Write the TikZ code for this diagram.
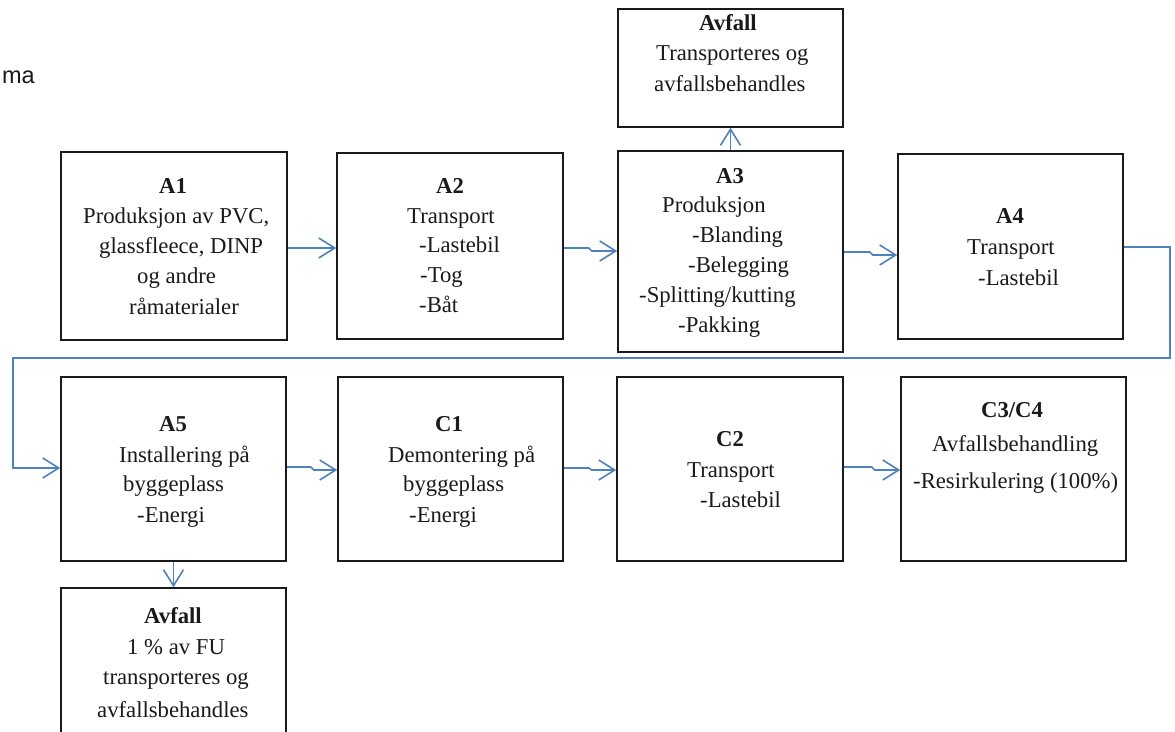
\documentclass[tikz,border=0pt]{standalone}
\usepackage{fontspec}
\setmainfont{Liberation Serif}
\newfontfamily\labelsans{Liberation Sans}
\usetikzlibrary{arrows.meta}
\definecolor{flowblue}{HTML}{4F81BD}
\definecolor{ink}{HTML}{1A1A1A}
\begin{document}
\begin{tikzpicture}[x=1pt,y=-1pt,
  box/.style={draw=ink, line width=1.6pt, inner sep=0pt},
  tl/.style={anchor=base west, inner sep=0pt, text=ink, font=\fontsize{22.7}{27}\selectfont},
  hd/.style={anchor=base, inner sep=0pt, text=ink, font=\fontsize{22.7}{27}\selectfont\bfseries},
  arr/.style={draw=flowblue, line width=1.6pt, -{Straight Barb[length=16pt,width=20pt]}}]
\clip (0,0) rectangle (1175,731);
\fill[white] (0,0) rectangle (1175,731);

% partial title
\node[anchor=base east, inner sep=0pt, font=\labelsans\fontsize{23.5}{28}\selectfont, text=ink] (title) at (35,83) {ma};

% boxes
\node[box, minimum width=226pt, minimum height=188pt] (A1) at (174,246) {};
\node[box, minimum width=226pt, minimum height=186pt] (A2) at (450,246) {};
\node[box, minimum width=225pt, minimum height=201pt] (A3) at (730.5,251.5) {};
\node[box, minimum width=225pt, minimum height=118pt] (AvT) at (730.5,68) {};
\node[box, minimum width=225pt, minimum height=185pt] (A4) at (1010.5,246.5) {};
\node[box, minimum width=225pt, minimum height=184pt] (A5) at (173.5,469) {};
\node[box, minimum width=225pt, minimum height=184pt] (C1) at (450.5,469) {};
\node[box, minimum width=226pt, minimum height=184pt] (C2) at (730,469) {};
\node[box, minimum width=225pt, minimum height=184pt] (C3) at (1013.5,469) {};
\node[box, minimum width=225pt, minimum height=172pt] (AvB) at (173.5,674) {};

% A1 text
\node[hd] (A1h) at (173,193) {A1};
\node[tl] (A1a) at (83,223) {Produksjon av PVC,};
\node[tl] (A1b) at (99,253) {glassfleece, DINP};
\node[tl] (A1c) at (137,283) {og andre};
\node[tl] (A1d) at (129,314) {råmaterialer};
% A2 text
\node[hd] (A2h) at (450,193) {A2};
\node[tl] (A2a) at (407,223) {Transport};
\node[tl] (A2b) at (419,252) {-Lastebil};
\node[tl] (A2c) at (420,282) {-Tog};
\node[tl] (A2d) at (419,312) {-Båt};
% A3 text
\node[hd] (A3h) at (730,183) {A3};
\node[tl] (A3a) at (662,212) {Produksjon};
\node[tl] (A3b) at (692,242) {-Blanding};
\node[tl] (A3c) at (688,272) {-Belegging};
\node[tl] (A3d) at (639,302) {-Splitting/kutting};
\node[tl] (A3e) at (678,332) {-Pakking};
% top waste
\node[hd] (AvTh) at (728,30) {Avfall};
\node[tl] (AvTa) at (656,60) {Transporteres og};
\node[tl] (AvTb) at (654,91) {avfallsbehandles};
% A4 text
\node[hd] (A4h) at (1010,223) {A4};
\node[tl] (A4a) at (967,254) {Transport};
\node[tl] (A4b) at (978,285) {-Lastebil};
% A5 text
\node[hd] (A5h) at (173,431) {A5};
\node[tl] (A5a) at (119,462) {Installering på};
\node[tl] (A5b) at (123,491) {byggeplass};
\node[tl] (A5c) at (137,522) {-Energi};
% C1 text
\node[hd] (C1h) at (449,431) {C1};
\node[tl] (C1a) at (388,462) {Demontering på};
\node[tl] (C1b) at (403,491) {byggeplass};
\node[tl] (C1c) at (409,522) {-Energi};
% C2 text
\node[hd] (C2h) at (730,446) {C2};
\node[tl] (C2a) at (687,477) {Transport};
\node[tl] (C2b) at (700,507) {-Lastebil};
% C3/C4 text
\node[hd] (C3h) at (1012,417) {C3/C4};
\node[tl] (C3a) at (932,451) {Avfallsbehandling};
\node[tl] (C3b) at (913,488) {-Resirkulering (100\%)};
% bottom waste
\node[hd] (AvBh) at (173,623) {Avfall};
\node[tl] (AvBa) at (127,654) {1 \% av FU};
\node[tl] (AvBb) at (103,684) {transporteres og};
\node[tl] (AvBc) at (97,717) {avfallsbehandles};

% connectors
\draw[arr] (A1.east |- 0,248) -- (A2.west |- 0,248);
\draw[arr] (A2.east |- 0,248) -- ++(25,0) -- ++(3,3) -- (A3.west |- 0,251);
\draw[arr] (A3.east |- 0,252) -- ++(26,0) -- ++(3,3) -- (A4.west |- 0,255);
\draw[arr] (A3.north) -- (AvT.south);
\coordinate (loopR) at (1170,358);
\coordinate (loopL) at (13,358);
\draw[arr] (A4.east |- 0,247) -| (loopR) -- (loopL) |- (A5.west |- 0,468);
\draw[arr] (A5.east |- 0,467) -- ++(24,0) -- ++(3,3) -- (C1.west |- 0,470);
\draw[arr] (C1.east |- 0,468) -- ++(25,0) -- ++(3,2) -- (C2.west |- 0,470);
\draw[arr] (C2.east |- 0,467) -- ++(28,0) -- ++(3,3) -- (C3.west |- 0,470);
\draw[arr] (A5.south) -- (AvB.north);
\end{tikzpicture}
\end{document}
